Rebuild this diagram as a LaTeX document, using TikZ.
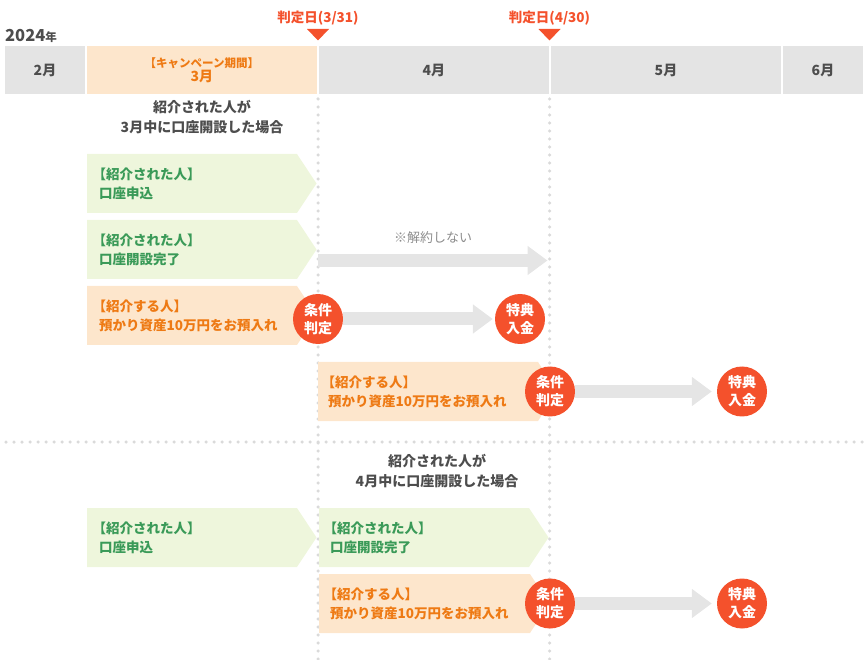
\documentclass[tikz,border=0pt]{standalone}
\usepackage{fontspec}
\setmainfont{Noto Sans CJK JP}
\usetikzlibrary{arrows.meta}
\definecolor{hdr}{HTML}{E4E4E4}
\definecolor{camp}{HTML}{FDE6CC}
\definecolor{orgtxt}{HTML}{EE7A14}
\definecolor{grnfill}{HTML}{EEF6DC}
\definecolor{grntxt}{HTML}{3A9A58}
\definecolor{redc}{HTML}{F4512C}
\definecolor{arrgray}{HTML}{E5E5E5}
\definecolor{dotc}{HTML}{DADADA}
\definecolor{txt}{HTML}{4D4D4D}
\definecolor{notetxt}{HTML}{8C8C8C}
\newcommand\lbk{\hspace*{-6.5pt}}
\tikzset{
  cell/.style={fill=hdr, minimum height=48pt, inner sep=0pt, text=txt, font=\fontsize{14}{16}\selectfont\bfseries},
  boxtxt/.style={anchor=west, align=left, inner sep=0pt, font=\fontsize{13.5}{19.5}\selectfont\bfseries},
  gtext/.style={boxtxt, text=grntxt},
  otext/.style={boxtxt, text=orgtxt},
  gbox/.style={fill=grnfill},
  obox/.style={fill=camp},
  badge/.style={circle, fill=redc, minimum size=50pt, inner sep=0pt, text=white, align=center, font=\fontsize{14}{18}\selectfont\bfseries},
  dotline/.style={dotc, line width=3.5pt, line cap=round, dash pattern=on 0pt off 8pt},
  bigarrow/.style={arrgray, line width=13pt, -{Triangle[length=20pt, width=28pt]}},
  judge/.style={text=redc, inner sep=0pt, font=\fontsize{13.5}{15}\selectfont\bfseries},
  headtxt/.style={text=txt, align=center, inner sep=0pt, font=\fontsize{14}{20}\selectfont\bfseries},
}
\begin{document}
\begin{tikzpicture}[x=1pt, y=-1pt]
\useasboundingbox (0,0) rectangle (868,660);

% dotted guide lines
\draw[dotline] (318,99) -- (318,660);
\draw[dotline] (549.5,99) -- (549.5,660);
\draw[dotline] (6,442) -- (864,442);

% year
\node[anchor=base west, inner sep=0pt, text=txt, font=\bfseries] (year) at (5,41.5)
  {\fontsize{16.5}{18}\selectfont 2024\fontsize{11.5}{13}\selectfont 年};

% judgement dates
\node[judge] (jd1) at (318,18) {判定日(3/31)};
\node[judge] (jd2) at (549.5,18) {判定日(4/30)};
\fill[redc] (307,29) -- (329,29) -- (318,40.5) -- cycle;
\fill[redc] (538.5,29) -- (560.5,29) -- (549.5,40.5) -- cycle;

% month header
\node[cell, minimum width=80pt] (m2) at (45,70) {2月};
\node[cell, fill=camp, minimum width=229.5pt, text=orgtxt, align=center, font=\bfseries] (m3) at (201.8,70)
  {\fontsize{11.5}{13}\selectfont 【キャンペーン期間】\\[0pt]\fontsize{14}{16}\selectfont 3月};
\node[cell, minimum width=229.5pt] (m4) at (433.8,70) {4月};
\node[cell, minimum width=230pt] (m5) at (666,70) {5月};
\node[cell, minimum width=80pt] (m6) at (823,70) {6月};

% case headings
\node[headtxt] (h1) at (202,117.5) {紹介された人が\\3月中に口座開設した場合};
\node[headtxt] (h2) at (437,471.5) {紹介された人が\\4月中に口座開設した場合};

% ---- case 1 (March) ----
\fill[gbox] (87,154) -- (297,154) -- (316.5,183.5) -- (297,213) -- (87,213) -- cycle;
\node[gtext] (a1) at (99,184) {\lbk【紹介された人】\\口座申込};

\fill[gbox] (87,220) -- (297,220) -- (316.5,249.5) -- (297,279) -- (87,279) -- cycle;
\node[gtext] (a2) at (99,250) {\lbk【紹介された人】\\口座開設完了};
\coordinate (a2s) at (318,260.5);
\coordinate (a2e) at (547.5,260.5);
\draw[bigarrow] (a2s) -- (a2e);
\node[text=notetxt, inner sep=0pt, font=\fontsize{13}{15}\selectfont] (note) at (433,238) {※解約しない};

\fill[obox] (87,286) -- (297,286) -- (316.5,315.5) -- (297,345) -- (87,345) -- cycle;
\node[otext] (a3) at (99,316) {\lbk【紹介する人】\\預かり資産10万円をお預入れ};
\node[badge] (j1) at (318,319) {条件\\判定};
\node[badge] (t1) at (520,319) {特典\\入金};
\draw[bigarrow] (j1.east) -- ([xshift=-2pt]t1.west);

\fill[obox] (318,362) -- (538,362) -- (557.5,391.5) -- (538,421) -- (318,421) -- cycle;
\node[otext] (b1) at (328,392) {\lbk【紹介する人】\\預かり資産10万円をお預入れ};
\node[badge] (j2) at (550,391.5) {条件\\判定};
\node[badge] (t2) at (742,391.5) {特典\\入金};
\draw[bigarrow] (j2.east) -- ([xshift=-5pt]t2.west);

% ---- case 2 (April) ----
\fill[gbox] (87,508) -- (297,508) -- (316.5,537.5) -- (297,567) -- (87,567) -- cycle;
\node[gtext] (c1) at (99,538) {\lbk【紹介された人】\\口座申込};

\fill[gbox] (319,508) -- (529,508) -- (548.5,537.5) -- (529,567) -- (319,567) -- cycle;
\node[gtext] (c2) at (330,538) {\lbk【紹介された人】\\口座開設完了};

\fill[obox] (319,574) -- (530,574) -- (549.5,603.5) -- (530,633) -- (319,633) -- cycle;
\node[otext] (c3) at (330,604) {\lbk【紹介する人】\\預かり資産10万円をお預入れ};
\node[badge] (j3) at (550,603.5) {条件\\判定};
\node[badge] (t3) at (742,603.5) {特典\\入金};
\draw[bigarrow] (j3.east) -- ([xshift=-5pt]t3.west);
\end{tikzpicture}
\end{document}
